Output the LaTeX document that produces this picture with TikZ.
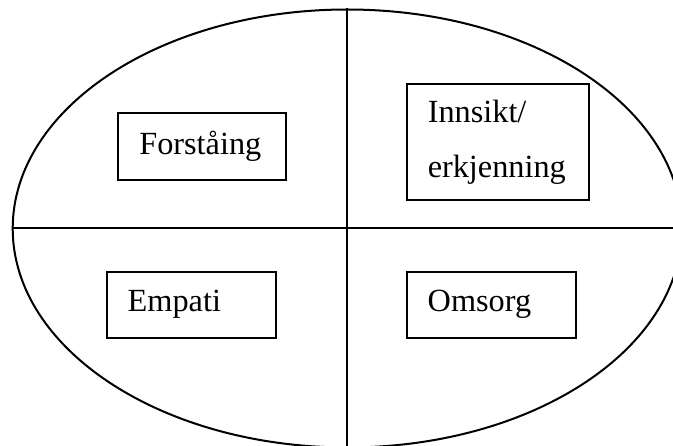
\documentclass[tikz,border=0pt]{standalone}
\usepackage{fontspec}
\setmainfont{Liberation Serif}
\usetikzlibrary{shapes.geometric}
\tikzset{
  txtbox/.style={draw, line width=2pt, inner xsep=21pt, inner ysep=0pt, align=left,
    font=\fontsize{32.3}{55}\selectfont},
  divline/.style={line width=2pt},
}
\begin{document}
\begin{tikzpicture}[x=1pt,y=-1pt]
\useasboundingbox (0,0) rectangle (673,446);
\clip (0,0) rectangle (673,446);
\node[ellipse, draw, line width=2pt, inner sep=0pt, minimum width=669.2pt, minimum height=438pt] (oval) at (347.3,228.5) {};
\draw[divline] (oval.north) -- (oval.south);
\draw[divline] (oval.west) -- (oval.east);
\node[txtbox, text width=125.4pt, minimum height=66.7pt] (forst) at (202,146.7) {Forståing};
\node[txtbox, text width=140.3pt, minimum height=115.7pt] (innsikt) at (497.9,142.2) {Innsikt/\\erkjenning};
\node[txtbox, text width=127pt, minimum height=66pt] (empati) at (191.2,304.7) {Empati};
\node[txtbox, text width=127pt, minimum height=66pt] (omsorg) at (491.2,304.7) {Omsorg};
\end{tikzpicture}
\end{document}
